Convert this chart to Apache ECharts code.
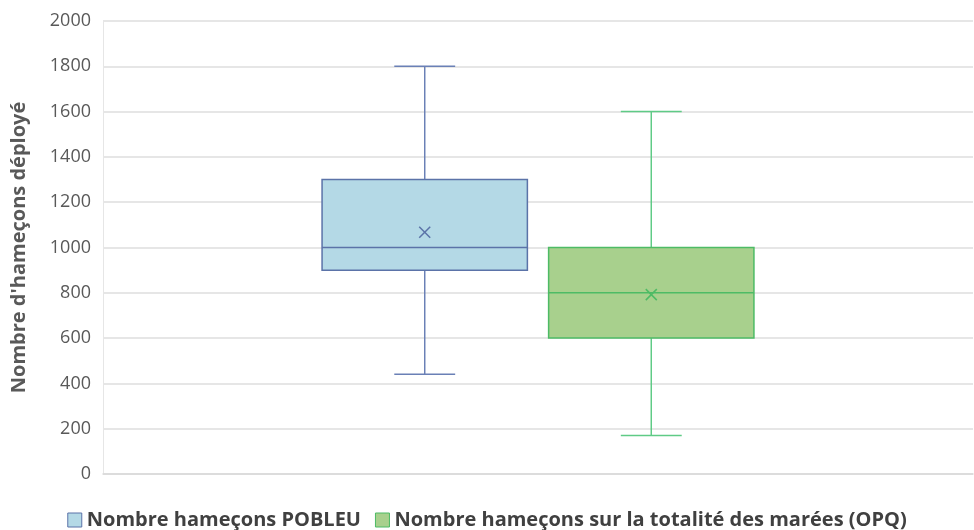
<!DOCTYPE html>
<html>
<head>
<meta charset="utf-8">
<script src="https://cdn.jsdelivr.net/npm/echarts@6/dist/echarts.min.js"></script>
<style>
  html, body { margin: 0; padding: 0; background: #fff; }
  #chart { width: 974px; height: 530px; }
</style>
</head>
<body>
<div id="chart"></div>
<script>
// Data: one (blank) category, two box-and-whisker series
const categories = [''];
const seriesNames = ['Nombre hameçons POBLEU', 'Nombre hameçons sur la totalité des marées (OPQ)'];
// [min, Q1, median, Q3, max]
const pobleuStats = [440, 900, 1000, 1300, 1800];
const opqStats = [170, 600, 800, 1000, 1600];
const pobleuMean = 1067;
const opqMean = 792;
const yTicks = [0, 200, 400, 600, 800, 1000, 1200, 1400, 1600, 1800, 2000];
const yAxisTitle = "Nombre d'hameçons déployé";

const FONT = '"Open Sans", "DejaVu Sans", sans-serif';

// Layout of the boxes inside the category band (fractions of the band width)
const BOX_W = 0.236;
const CAP_HALF = 0.035;
const OFFSETS = [-0.1302, 0.1302];

const styles = [
  { fill: '#b4d9e6', border: '#5b73a8', whisker: '#6a80b6' },
  { fill: '#a8d08d', border: '#4dbb65', whisker: '#5fcb86' }
];

function makeRender(seriesIdx) {
  const st = styles[seriesIdx];
  return function (params, api) {
    const cat = api.value(0);
    const band = api.size([1, 0])[0];
    const cx = api.coord([cat, 0])[0] + OFFSETS[seriesIdx] * band;
    const w = BOX_W * band;
    const cap = CAP_HALF * band;
    const y = (i) => api.coord([cat, api.value(i)])[1];
    const yMin = y(1), yQ1 = y(2), yMed = y(3), yQ3 = y(4), yMax = y(5), yMean = y(6);
    const whiskerStyle = { stroke: st.whisker, lineWidth: 1.5 };
    const borderStyle = { stroke: st.border, lineWidth: 1.5 };
    const m = 5.5;
    return {
      type: 'group',
      children: [
        { type: 'line', shape: { x1: cx, y1: yMax, x2: cx, y2: yQ3 }, style: whiskerStyle },
        { type: 'line', shape: { x1: cx - cap, y1: yMax, x2: cx + cap, y2: yMax }, style: whiskerStyle },
        { type: 'line', shape: { x1: cx, y1: yQ1, x2: cx, y2: yMin }, style: whiskerStyle },
        { type: 'line', shape: { x1: cx - cap, y1: yMin, x2: cx + cap, y2: yMin }, style: whiskerStyle },
        { type: 'rect', shape: { x: cx - w / 2, y: yQ3, width: w, height: yQ1 - yQ3 },
          style: { fill: st.fill, stroke: st.border, lineWidth: 1.5 } },
        { type: 'line', shape: { x1: cx - w / 2, y1: yMed, x2: cx + w / 2, y2: yMed }, style: borderStyle },
        { type: 'line', shape: { x1: cx - m, y1: yMean - m, x2: cx + m, y2: yMean + m }, style: borderStyle },
        { type: 'line', shape: { x1: cx - m, y1: yMean + m, x2: cx + m, y2: yMean - m }, style: borderStyle }
      ]
    };
  };
}

const seriesData = [
  [[0].concat(pobleuStats, [pobleuMean])],
  [[0].concat(opqStats, [opqMean])]
];

const chart = echarts.init(document.getElementById('chart'), null, { renderer: 'canvas' });
chart.setOption({
  animation: false,
  backgroundColor: '#ffffff',
  grid: { left: 103, right: 1, top: 21, bottom: 56 },
  legend: {
    top: 505,
    left: 'center',
    itemWidth: 14,
    itemHeight: 14,
    itemGap: 14,
    textStyle: { fontFamily: FONT, fontSize: 20, fontWeight: 'bold', color: '#404040' },
    data: seriesNames.map((n, i) => ({
      name: n,
      icon: 'rect',
      itemStyle: { color: styles[i].fill, borderColor: styles[i].border, borderWidth: 1 }
    }))
  },
  xAxis: {
    type: 'category',
    data: categories,
    axisLine: { show: true, lineStyle: { color: '#d9d9d9', width: 1.5 } },
    axisTick: { show: false },
    axisLabel: { show: false },
    splitLine: { show: false }
  },
  yAxis: {
    type: 'value',
    min: yTicks[0],
    max: yTicks[yTicks.length - 1],
    interval: 200,
    name: yAxisTitle,
    nameLocation: 'middle',
    nameGap: 74,
    nameTextStyle: { fontFamily: FONT, fontSize: 20, fontWeight: 'bold', color: '#595959' },
    axisLine: { show: true, lineStyle: { color: '#e6e6e6', width: 1 } },
    axisTick: { show: false },
    axisLabel: {
      fontFamily: FONT, fontSize: 18, color: '#595959', margin: 12,
      formatter: (v) => String(v)
    },
    splitLine: { show: true, lineStyle: { color: '#dedede', width: 1.5 } }
  },
  series: seriesNames.map((n, i) => ({
    name: n,
    type: 'custom',
    renderItem: makeRender(i),
    itemStyle: { color: styles[i].fill, borderColor: styles[i].border },
    encode: { x: 0, y: [1, 2, 3, 4, 5, 6] },
    data: seriesData[i],
    z: 3
  }))
});
</script>
</body>
</html>
